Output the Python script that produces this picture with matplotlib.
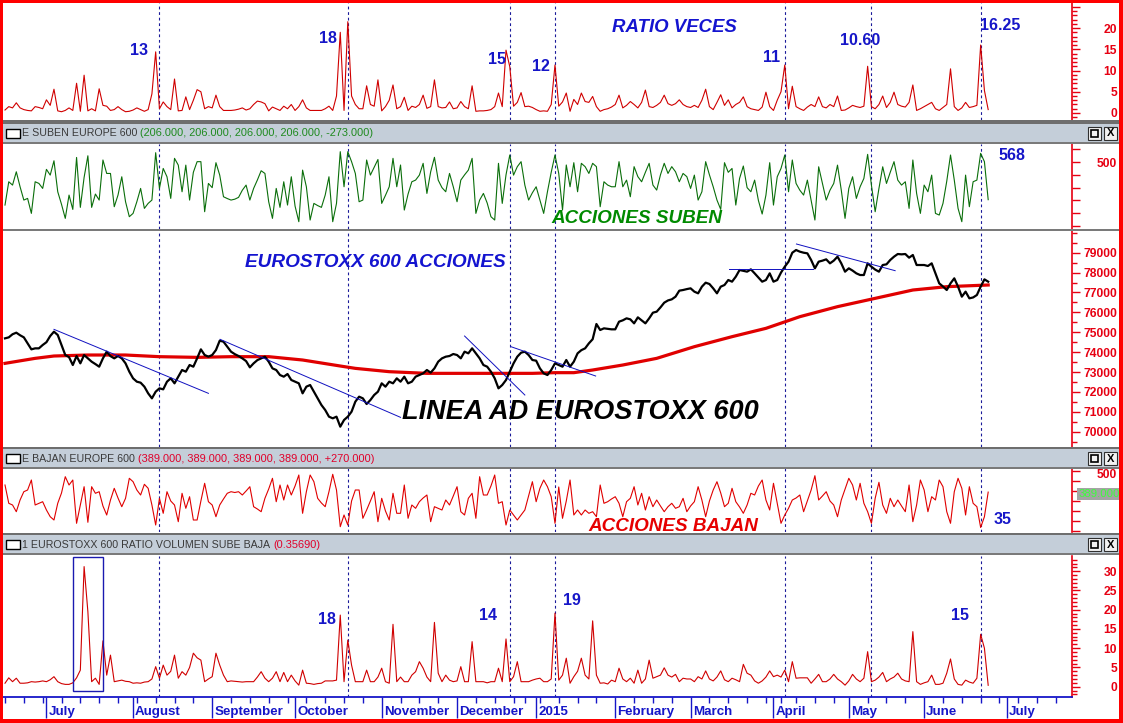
import matplotlib
matplotlib.use("Agg")
import matplotlib.pyplot as plt
from matplotlib.patches import Rectangle
import numpy as np
import pandas as pd

plt.rcParams['font.family'] = ['Liberation Sans', 'DejaVu Sans']

# ---------------- data: one value per session, first session 16 Jun 2014 ----------------
ratio_veces = [
    0.7, 1.5, 1.2, 2.4, 1.2, 0.8, 0.6, 0.5, 1.5, 1.3,
    1.0, 3.1, 1.8, 5.6, 0.5, 0.3, 0.6, 1.2, 0.6,
    7.0, 0.4, 8.9, 0.5, 1.0, 0.5, 5.7, 1.8, 1.6, 0.6,
    0.8, 1.5, 0.8, 0.3, 0.4, 0.7, 1.2, 0.8, 0.4, 0.8,
    4.5, 14.4, 1.0, 2.6, 1.5, 0.8, 8.0, 0.5, 0.6, 3.8,
    0.8, 3.0, 5.5, 5.0, 1.0, 1.5, 1.2, 4.2, 1.5,
    0.6, 0.6, 0.6, 0.7, 0.9, 1.2, 0.7, 1.0, 2.0, 2.8,
    2.6, 2.2, 0.5, 1.4, 1.0, 0.6, 1.6, 1.0, 2.0, 0.6,
    1.5, 3.1, 1.2, 0.6, 0.6, 0.6, 0.6, 1.0, 1.6, 0.6,
    4.0, 19.0, 0.6, 21.5, 4.0, 2.0, 1.0, 1.0, 6.4, 2.0,
    1.6, 7.8, 0.5, 1.5, 3.0, 6.6, 1.0, 1.5, 3.7,
    0.6, 1.6, 1.3, 2.0, 4.2, 1.1, 1.5, 7.8, 1.5, 1.2,
    1.3, 2.6, 1.0, 1.2, 2.7, 1.5, 1.0, 6.4, 0.4, 0.5,
    0.5, 0.6, 0.8, 1.5, 4.7, 1.5, 14.8, 10.9, 1.6, 2.5,
    4.8, 1.5, 1.6, 1.3, 0.8, 0.4, 0.5, 0.4, 2.0, 11.3,
    1.6, 2.6, 4.7, 0.4, 3.2, 2.0, 4.7, 2.7, 2.5, 3.9,
    1.5, 0.4, 0.8, 1.0, 1.4, 2.0, 4.2, 1.2, 1.8,
    2.7, 2.0, 1.2, 2.5, 5.4, 1.5, 1.3, 1.8, 2.5, 4.2,
    2.2, 1.8, 2.2, 3.1, 2.0, 1.5, 1.3, 1.8, 1.3, 3.0,
    5.6, 1.5, 0.8, 2.5, 4.3, 1.8, 3.1, 1.2, 2.0,
    2.5, 3.8, 1.5, 1.0, 0.8, 0.6, 1.4, 4.9, 1.5, 0.6,
    3.0, 5.0, 11.3, 1.0, 6.3, 1.5, 1.0, 0.6, 1.4, 2.0,
    1.5, 3.8, 1.5, 1.2, 2.0, 1.5, 4.0, 0.6, 0.7, 1.2,
    1.8, 1.5, 1.3, 1.6, 11.0, 1.5, 1.0, 2.0, 4.0, 1.3,
    2.5, 4.9, 2.0, 1.6, 1.4, 2.5, 6.6, 0.6, 1.0,
    1.5, 2.0, 2.5, 1.0, 0.6, 1.3, 2.0, 10.4, 1.5, 0.6,
    1.2, 2.5, 1.3, 1.5, 1.8, 16.0, 5.3, 0.8,
]

suben = [
    164, 346, 320, 424, 307, 203, 216, 99, 346, 333,
    294, 443, 398, 510, 268, 170, 60, 242, 130,
    536, 146, 380, 549, 146, 250, 203, 516, 411, 411,
    151, 242, 385, 190, 73, 99, 190, 294, 138, 177,
    203, 573, 294, 450, 385, 216, 529, 476, 268, 476,
    203, 420, 503, 503, 112, 333, 300, 495, 398,
    229, 215, 203, 210, 224, 280, 320, 203, 294, 360,
    432, 411, 190, 60, 294, 146, 346, 164, 385, 156,
    34, 437, 307, 47, 177, 160, 146, 242, 385, 34,
    177, 581, 307, 581, 503, 411, 190, 203, 516, 398,
    460, 520, 177, 240, 307, 529, 307, 477, 125,
    250, 346, 359, 398, 490, 255, 424, 537, 359, 300,
    268, 411, 307, 190, 359, 400, 437, 529, 99, 203,
    255, 180, 73, 47, 490, 177, 400, 555, 398, 464,
    503, 320, 203, 260, 307, 203, 99, 268, 420, 555,
    411, 125, 477, 307, 495, 268, 490, 464, 411, 490,
    464, 151, 346, 320, 307, 307, 503, 307, 359,
    229, 464, 386, 346, 420, 490, 320, 281, 400, 490,
    411, 464, 424, 346, 411, 386, 294, 398, 203, 268,
    503, 400, 307, 203, 130, 495, 420, 450, 164,
    372, 469, 300, 268, 359, 200, 94, 242, 495, 164,
    385, 450, 555, 268, 516, 333, 280, 242, 359, 200,
    47, 463, 333, 203, 280, 333, 476, 281, 60, 294,
    385, 216, 307, 372, 560, 320, 112, 294, 463, 333,
    420, 503, 359, 320, 346, 138, 516, 255, 99,
    320, 268, 398, 99, 86, 177, 350, 555, 359, 138,
    34, 398, 151, 346, 359, 568, 503, 206,
]

ad_line = [
    74694, 74744, 74900, 74979, 74850, 74744, 74443, 74141, 74191, 74191,
    74359, 74500, 74811, 75029, 74862, 74359, 73856, 73750, 73353,
    73806, 73437, 73856, 73688, 73521, 73400, 73269, 73688, 74024, 73800,
    73688, 73806, 73688, 73437, 73018, 72683, 72515, 72465, 72264, 71929,
    71677, 72012, 72180, 72130, 72515, 72683, 72432, 72767, 73102, 73018,
    73353, 73269, 73688, 74141, 73856, 73772, 73856, 74107, 74577,
    74526, 74275, 74024, 73900, 73806, 73688, 73550, 73236, 73437, 73600,
    73688, 73772, 73521, 73185, 73102, 72850, 72767, 72901, 72600, 72515,
    72432, 71929, 72264, 72348, 72012, 71677, 71342, 71091, 70756, 70672,
    70756, 70253, 70588, 70756, 71007, 71510, 71761, 71677, 71392, 71593,
    71845, 72012, 72432, 72264, 72515, 72432, 72683, 72515, 72767,
    72432, 72515, 72767, 72850, 72934, 73102, 72968, 73185, 73521, 73688,
    73772, 73806, 73906, 73856, 73688, 74024, 73940, 74191, 73940, 73688,
    73353, 73269, 73018, 72683, 72180, 72348, 72599, 73018, 73437, 73772,
    73973, 74024, 73856, 73605, 73571, 73185, 72934, 72850, 73102, 73437,
    73353, 73269, 73605, 73269, 73521, 73940, 74100, 74191, 74443, 74650,
    75415, 75113, 75197, 75170, 75147, 75147, 75532, 75600, 75700,
    75649, 75448, 75750, 75600, 75448, 75700, 75985, 76035, 76250, 76487,
    76600, 76655, 76789, 77091, 77124, 77170, 77208, 77041, 76957, 77292,
    77493, 77426, 77208, 76957, 77292, 77376, 77627, 77543, 77795,
    78130, 78090, 78046, 78163, 77962, 77750, 77543, 77627, 77962, 77543,
    77627, 78000, 78297, 78549, 79000, 79135, 79052, 79000, 78968, 78633,
    78214, 78549, 78600, 78666, 78465, 78600, 78800, 78465, 78046, 78214,
    78100, 77962, 77878, 77878, 78465, 78297, 78150, 78046, 78381, 78415,
    78633, 78800, 78934, 78917, 78934, 78750, 78884, 78381, 78381,
    78381, 78331, 78465, 77962, 77459, 77300, 77124, 77459, 77711, 77292,
    76789, 77041, 76705, 76750, 76873, 77292, 77660, 77543,
]

bajan = [
    460, 277, 260, 193, 310, 393, 410, 510, 260, 277,
    293, 210, 143, 110, 277, 380, 543, 460, 510,
    77, 260, 443, 87, 443, 377, 393, 250, 160, 310,
    427, 330, 243, 327, 527, 493, 410, 360, 467, 427,
    260, 60, 327, 177, 393, 300, 260, 93, 377, 227,
    343, 110, 110, 300, 477, 293, 260, 143, 260,
    320, 377, 393, 385, 393, 360, 400, 443, 243, 220,
    193, 327, 420, 527, 293, 460, 310, 460, 360, 450,
    560, 177, 393, 560, 493, 327, 280, 243, 393, 567,
    410, 43, 160, 60, 300, 410, 410, 127, 210, 300,
    393, 93, 327, 200, 110, 377, 177, 177, 460,
    127, 260, 227, 293, 330, 360, 93, 243, 227, 210,
    310, 260, 350, 443, 193, 160, 327, 377, 127, 543,
    360, 360, 450, 560, 277, 293, 60, 210, 160, 110,
    160, 210, 350, 493, 293, 427, 510, 443, 343, 77,
    440, 127, 300, 510, 160, 210, 160, 210, 177, 193,
    143, 460, 277, 293, 320, 343, 277, 143, 293,
    327, 443, 260, 377, 210, 343, 243, 310, 250, 193,
    243, 277, 227, 243, 327, 193, 250, 293, 443, 310,
    143, 300, 410, 493, 380, 243, 277, 427, 293,
    240, 177, 260, 377, 360, 450, 510, 310, 210, 477,
    277, 77, 160, 227, 310, 330, 360, 193, 300, 410,
    553, 310, 350, 393, 300, 260, 143, 310, 420, 527,
    460, 310, 477, 277, 193, 77, 327, 487, 260, 177,
    327, 243, 310, 250, 193, 460, 93, 260, 510,
    410, 193, 343, 310, 510, 443, 193, 77, 393, 527,
    427, 160, 443, 277, 243, 35, 143, 389,
]

ratio_volumen = [
    0.9, 2.3, 1.3, 2.2, 0.9, 0.9, 1.0, 1.3, 1.2, 1.3,
    1.5, 1.3, 1.8, 2.6, 1.3, 0.8, 0.6, 0.6, 1.0,
    2.3, 4.3, 31.2, 19.5, 1.3, 2.2, 0.6, 11.9, 3.0, 8.2,
    1.3, 1.5, 1.7, 1.4, 1.3, 0.9, 1.0, 0.9, 1.2, 1.3,
    2.0, 5.2, 2.2, 5.6, 3.0, 4.0, 8.2, 2.2, 3.9, 3.0,
    5.0, 8.7, 7.5, 6.9, 1.3, 2.0, 2.6, 8.7, 5.6,
    3.0, 1.3, 1.5, 1.4, 1.3, 1.2, 1.3, 1.3, 1.3, 2.5,
    3.9, 2.2, 1.3, 2.2, 3.9, 1.3, 3.7, 1.3, 3.0, 1.5,
    0.4, 4.3, 0.9, 0.8, 0.6, 0.8, 0.9, 1.5, 1.5, 1.5,
    1.7, 18.6, 1.3, 12.1, 5.6, 1.3, 1.3, 1.3, 4.3, 1.3,
    1.3, 2.5, 4.8, 1.3, 0.9, 16.2, 1.3, 2.5, 1.3,
    1.3, 3.0, 3.9, 6.5, 4.8, 2.5, 1.3, 16.7, 3.5, 1.3,
    3.0, 1.7, 1.3, 1.5, 5.2, 1.3, 1.3, 11.7, 1.3, 1.3,
    1.3, 1.0, 1.3, 1.3, 4.8, 1.3, 12.4, 1.3, 2.6, 6.5,
    1.3, 1.3, 1.3, 1.7, 2.0, 2.2, 1.3, 1.3, 2.0, 19.1,
    1.7, 3.0, 7.4, 0.9, 2.6, 4.0, 7.4, 3.0, 2.0, 17.1,
    3.0, 0.9, 1.0, 0.7, 1.7, 1.3, 4.8, 2.0, 1.3,
    2.2, 0.9, 4.3, 0.9, 2.0, 6.9, 2.2, 2.6, 3.0, 4.9,
    3.0, 2.5, 3.2, 1.3, 2.2, 2.0, 2.0, 1.3, 2.6, 2.0,
    4.1, 2.0, 1.5, 2.5, 4.1, 1.8, 1.3, 2.2, 1.8,
    1.3, 5.8, 3.5, 3.0, 1.5, 0.9, 1.5, 2.5, 4.1, 2.6,
    3.0, 2.5, 4.3, 1.3, 6.5, 2.2, 2.3, 2.3, 2.3, 0.9,
    2.0, 3.2, 1.3, 1.3, 2.0, 3.2, 2.0, 1.3, 0.4, 1.5,
    3.2, 2.0, 1.3, 2.2, 9.1, 1.3, 1.7, 2.5, 3.7, 1.3,
    2.0, 2.5, 3.5, 2.0, 1.5, 1.3, 14.3, 1.3, 0.6,
    1.0, 1.3, 3.0, 0.6, 0.6, 0.9, 3.5, 7.2, 2.0, 0.6,
    0.4, 1.7, 1.2, 0.9, 2.2, 13.6, 10.0, 0.36,
]

# moving average under the A/D line (sampled sessions)
ma_days = [0, 8, 13, 22, 32, 41, 51, 60, 70, 79, 89, 93, 102, 112, 122, 132, 140,
           146, 151, 156, 164, 173, 183, 193, 202, 211, 221, 231, 241, 250, 261]
ma_values = [73437, 73688, 73806, 73856, 73856, 73772, 73738, 73772, 73772, 73605,
             73303, 73185, 73018, 72934, 72934, 72934, 72934, 72968, 72968, 73102,
             73353, 73688, 74275, 74778, 75197, 75783, 76287, 76705, 77124, 77292, 77376]

# trend lines drawn on the A/D panel: (day0, value0, day1, value1)
trend_lines = [
    (13.0, 75146, 54.0, 71929),
    (57.1, 74644, 105.0, 70722),
    (122.0, 74811, 138.0, 71845),
    (134.3, 74275, 156.8, 72800),
    (192.3, 78163, 214.4, 78163),
    (210.1, 79437, 236.3, 78096),
]

marker_days = [41, 91, 134, 146, 207, 230, 259]
holidays = ['2014-12-25', '2014-12-26', '2015-01-01', '2015-04-03', '2015-04-06', '2015-05-01']

top_notes = [("13", 35.7, 14.6), ("18", 85.6, 17.6), ("15", 130.5, 12.6), ("12", 142.4, 10.9),
             ("11", 203.4, 13.1), ("10.60", 227.1, 17.0), ("16.25", 264.2, 20.5)]
bottom_notes = [("18", 85.4, 17.5), ("14", 128.3, 18.6), ("19", 150.6, 22.3), ("15", 253.6, 18.6)]

# ---------------- layout helpers ----------------
W, H = 1123, 723
X0, X1 = 3, 1072
PX_DAY = 3.767
XLIM = ((X0 - 5) / PX_DAY, (X1 - 5) / PX_DAY)
AXRED = '#e60012'
BLUE = '#1616c8'
DASH = '#1a1a9a'

fig = plt.figure(figsize=(W / 100, H / 100), dpi=100)
fig.patch.set_facecolor('white')
days = np.arange(len(ad_line))


def fig_rect(x0, y0, x1, y1, **kw):
    fig.add_artist(Rectangle((x0 / W, 1 - y1 / H), (x1 - x0) / W, (y1 - y0) / H,
                             transform=fig.transFigure, **kw))


def make_panel(y0, y1, ylim, major, labels, minor=None, majlen=6):
    ax = fig.add_axes([X0 / W, 1 - y1 / H, (X1 - X0) / W, (y1 - y0) / H])
    ax.set_xlim(*XLIM)
    ax.set_ylim(*ylim)
    for side in ('left', 'top', 'bottom'):
        ax.spines[side].set_visible(False)
    ax.spines['right'].set_color(AXRED)
    ax.spines['right'].set_linewidth(1.2)
    ax.set_xticks([])
    ax.yaxis.tick_right()
    ax.set_yticks(major)
    ax.set_yticklabels(labels)
    if minor is not None:
        ax.set_yticks(minor, minor=True)
    ax.tick_params(axis='y', which='major', direction='out', length=majlen, width=1,
                   color=AXRED, labelcolor=AXRED, labelsize=8.7, pad=32.4 - majlen)
    ax.tick_params(axis='y', which='minor', direction='out', length=3.5, width=1, color=AXRED)
    for t in ax.yaxis.get_major_ticks():
        t.label2.set_horizontalalignment('right')
        t.label2.set_fontweight('bold')
    for d in marker_days:
        ax.axvline(d, color=DASH, lw=0.8, ls=(0, (2.5, 2.5)), zorder=1)
    return ax


def note(ax, txt, x, y, color=BLUE, size=11.5):
    ax.text(x, y, txt, color=color, fontsize=size, fontweight='bold', ha='center', va='center', zorder=5)


def big(ax, txt, x, y, color, size=13.6):
    ax.text(x, y, txt, color=color, fontsize=size, fontweight='bold', fontstyle='italic',
            ha='left', va='center', zorder=5)


# ---------------- panel 1 : ratio veces ----------------
ax1 = make_panel(3, 120, (-1.65, 25.9), [0, 5, 10, 15, 20, 25], ['0', '5', '10', '15', '20', ''],
                 minor=np.arange(-1, 26, 1))
ax1.plot(days, ratio_veces, color='#d00000', lw=0.8, zorder=2)
for t, x, y in top_notes:
    note(ax1, t, x, y)
big(ax1, 'RATIO VECES', 161.1, 20.2, '#1414d0', 13.4)

# ---------------- panel 2 : suben ----------------
ax2 = make_panel(144, 229, (-23, 641), [0, 100, 200, 300, 400, 500, 600],
                 ['', '', '', '', '', '500', ''])
ax2.plot(days, suben, color='#0a6e0a', lw=0.8, zorder=2)
note(ax2, '568', 267.3, 555)
big(ax2, 'ACCIONES SUBEN', 145.0, 60, '#008a00')

# ---------------- panel 3 : A/D line ----------------
ax3 = make_panel(231, 447, (69231, 80091), list(range(70000, 80000, 1000)),
                 [str(v) for v in range(70000, 80000, 1000)],
                 minor=list(range(69500, 80500, 500)))
ax3.plot(ma_days, ma_values, color='#e00000', lw=2.3, zorder=2)
ax3.plot(days, ad_line, color='black', lw=1.6, zorder=3)
for d0, v0, d1, v1 in trend_lines:
    ax3.plot([d0, d1], [v0, v1], color='#1010c0', lw=0.7, zorder=3)
big(ax3, 'EUROSTOXX 600 ACCIONES', 63.8, 78532, '#1414d0', 13.7)
big(ax3, 'LINEA AD EUROSTOXX 600', 105.3, 71005, 'black', 19.5)

# ---------------- panel 4 : bajan ----------------
ax4 = make_panel(468, 532, (-10, 630), [0, 100, 200, 300, 400, 500, 600],
                 ['', '', '', '', '', '500', ''])
for t in ax4.yaxis.get_major_ticks():
    t.label2.set_va('bottom')
ax4.plot(days, bajan, color='#e00000', lw=0.8, zorder=2)
note(ax4, '35', 264.7, 118)
big(ax4, 'ACCIONES BAJAN', 154.9, 48, '#e60000')
ax4.annotate('389.000', xy=(1, bajan[-1]), xycoords=('axes fraction', 'data'),
             xytext=(4.5, -1.5), textcoords='offset points', ha='left', va='center',
             fontsize=8.2, color='#3cff3c',
             bbox=dict(boxstyle='square,pad=0.1', fc='#a4a4a4', ec='none'), zorder=6,
             annotation_clip=False)

# ---------------- panel 5 : ratio volumen ----------------
ax5 = make_panel(556, 697, (-2.68, 33.95), [0, 5, 10, 15, 20, 25, 30],
                 ['0', '5', '10', '15', '20', '25', '30'], minor=np.arange(-2, 34, 1))
ax5.plot(days, ratio_volumen, color='#d00000', lw=0.8, zorder=2)
for t, x, y in bottom_notes:
    note(ax5, t, x, y)
ax5.add_patch(Rectangle((18.1, -1.1), 7.8, 34.8, fill=False, ec='#1a1ab0', lw=1.0, zorder=4))

# date axis
cal = pd.bdate_range('2014-06-16', '2015-08-31')
cal = cal[~cal.isin(pd.to_datetime(holidays))][:285]
month_pos = [i for i in range(1, len(cal)) if cal[i].month != cal[i - 1].month]
week_pos = [i for i in range(1, len(cal)) if cal[i].weekday() < cal[i - 1].weekday()] + [0]
ax5.spines['bottom'].set_visible(True)
ax5.spines['bottom'].set_color(BLUE)
ax5.spines['bottom'].set_linewidth(1.3)
ax5.set_xticks(month_pos)
ax5.set_xticks(week_pos, minor=True)
ax5.set_xlim(*XLIM)
ax5.tick_params(axis='x', which='major', direction='out', length=15, width=1, color=BLUE, labelbottom=False)
ax5.tick_params(axis='x', which='minor', direction='out', length=4.5, width=1, color=BLUE)
for i in month_pos:
    if i > XLIM[1]:
        continue
    lab = str(cal[i].year) if cal[i].month == 1 else cal[i].strftime('%B')
    ax5.annotate(lab, xy=(i, 0), xycoords=('data', 'axes fraction'), xytext=(1.5, -10.5),
                 textcoords='offset points', ha='left', va='center', fontsize=9.6,
                 fontweight='bold', color=BLUE, annotation_clip=False)

# ---------------- window chrome ----------------
def header(y0, name, values, vcolor):
    fig_rect(3, y0, 1119, y0 + 2, color='#6e6e6e', lw=0, zorder=8)
    fig_rect(3, y0 + 2, 1119, y0 + 20, color='#c4ced9', lw=0, zorder=8)
    fig_rect(3, y0 + 20, 1119, y0 + 22, color='#7a7a7a', lw=0, zorder=8)
    fig_rect(6, y0 + 7, 20, y0 + 16, facecolor='white', edgecolor='black', lw=1.0, zorder=9)
    ym = 1 - (y0 + 11.5) / H
    t1 = fig.text(22 / W, ym, name, fontsize=7.7, color='#3a3a3a', va='center', ha='left', zorder=9)
    r = fig.canvas.get_renderer()
    bb = t1.get_window_extent(r)
    fig.text(bb.x1 / W + 3 / W, ym, values, fontsize=7.9, color=vcolor, va='center', ha='left', zorder=9)
    for bx in (1088, 1104):
        fig_rect(bx, y0 + 5, bx + 13, y0 + 18, facecolor='#f2f2f2', edgecolor='#303030', lw=0.8, zorder=9)
    fig_rect(1091, y0 + 8, 1098, y0 + 15, facecolor='none', edgecolor='black', lw=1.2, zorder=10)
    fig.text(1110.5 / W, ym, 'X', fontsize=8, fontweight='bold', color='black', ha='center', va='center', zorder=10)


fig_rect(3, 120, 1119, 122, color='#6e6e6e', lw=0, zorder=8)
header(122, 'E SUBEN EUROPE 600', '(206.000, 206.000, 206.000, 206.000, -273.000)', '#1f8a1f')
fig_rect(3, 229, 1119, 231, color='#7a7a7a', lw=0, zorder=8)
header(447, 'E BAJAN EUROPE 600', '(389.000, 389.000, 389.000, 389.000, +270.000)', '#e0002a')
header(533, '1 EUROSTOXX 600 RATIO VOLUMEN SUBE BAJA', '(0.35690)', '#e0002a')

# red frame
fig_rect(0, 0, W, 3, color='#ff0000', lw=0, zorder=20)
fig_rect(0, 0, 3, H, color='#ff0000', lw=0, zorder=20)
fig_rect(1119, 0, W, H, color='#ff0000', lw=0, zorder=20)
fig_rect(0, 719, W, H, color='#ff0000', lw=0, zorder=20)

fig.savefig('out.png', dpi=100, facecolor='white')
